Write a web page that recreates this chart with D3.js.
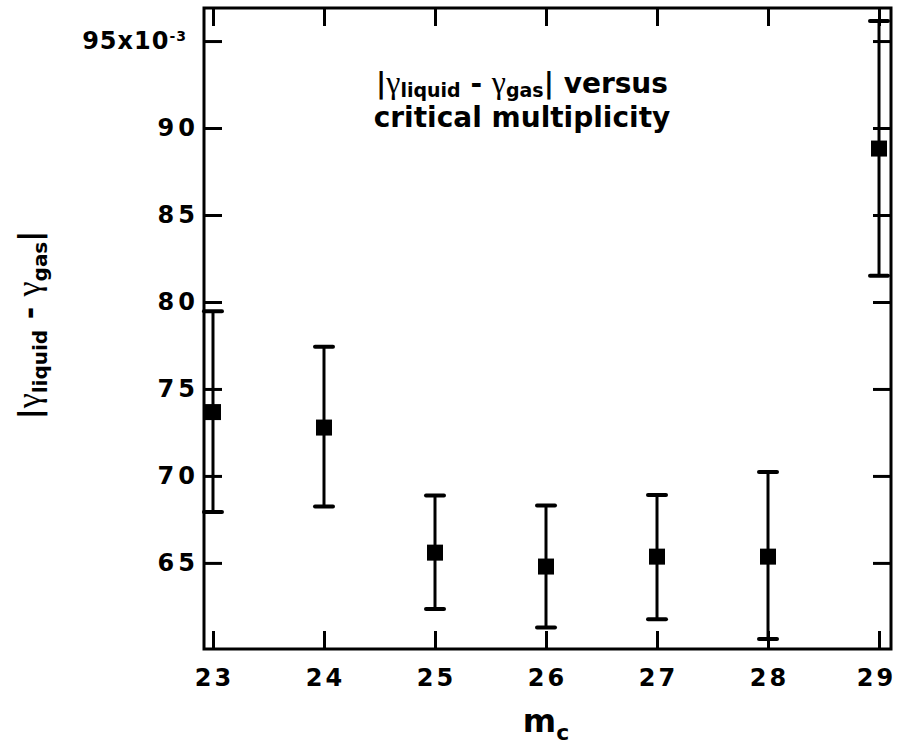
<!DOCTYPE html>
<html>
<head>
<meta charset="utf-8">
<script src="https://cdn.jsdelivr.net/npm/d3@7"></script>
<style>
  html, body { margin: 0; padding: 0; background: #fff; }
  svg { display: block; }
  text { white-space: pre; }
</style>
</head>
<body>
<svg id="chart" width="898" height="745"></svg>
<script>
// ---- data (values in units of 10^-3) ----
const categories = [23, 24, 25, 26, 27, 28, 29];
const values     = [73.67, 72.78, 65.59, 64.79, 65.36, 65.36, 88.82];
const errHigh    = [79.46, 77.43, 68.87, 68.30, 68.91, 70.22, 96.15];
const errLow     = [67.92, 68.24, 62.35, 61.28, 61.76, 60.63, 81.51];
const xTickValues = [23, 24, 25, 26, 27, 28, 29];
const yTickValues = [65, 70, 75, 80, 85, 90, 95];

(function () {
const svg = d3.select("#chart");
const pL = 204, pR = 891, pT = 8, pB = 649;
const FONT = "'DejaVu Sans', sans-serif";
const SERIF = "'Liberation Serif', 'DejaVu Serif', serif";

const x = d3.scaleLinear().domain([22.919, 29.108]).range([pL, pR]);
const y = d3.scaleLinear().domain([60.05, 96.9]).range([pB, pT]);

const TICK = 18;

// frame
svg.append("rect")
  .attr("x", pL).attr("y", pT)
  .attr("width", pR - pL).attr("height", pB - pT)
  .attr("fill", "none").attr("stroke", "#000").attr("stroke-width", 3);

function styleAxis(g, spacing) {
  g.select(".domain").remove();
  g.selectAll(".tick line").attr("stroke", "#000").attr("stroke-width", 3);
  g.selectAll(".tick text")
    .attr("fill", "#000")
    .style("font-family", FONT)
    .style("font-weight", "bold")
    .style("font-size", "24px")
    .style("letter-spacing", spacing + "px");
}

// bottom axis
const gx = svg.append("g").attr("transform", `translate(0,${pB})`)
  .call(d3.axisBottom(x).tickValues(xTickValues).tickFormat(d3.format("d"))
        .tickSize(-TICK).tickPadding(20));
styleAxis(gx, 3);
gx.selectAll(".tick text").attr("dx", d => d === 29 ? -3 : 1);

// top axis (ticks only)
const gxt = svg.append("g").attr("transform", `translate(0,${pT})`)
  .call(d3.axisTop(x).tickValues(xTickValues).tickFormat("").tickSize(-TICK));
styleAxis(gxt, 3);

// left axis
const gy = svg.append("g").attr("transform", `translate(${pL},0)`)
  .call(d3.axisLeft(y).tickValues(yTickValues).tickFormat(d3.format("d"))
        .tickSize(-TICK).tickPadding(5));
styleAxis(gy, 4);
gy.selectAll(".tick text").filter(d => d === 95).each(function () {
  const t = d3.select(this);
  t.text(null).style("letter-spacing", "1px").attr("x", -17);
  t.append("tspan").text("95x10");
  t.append("tspan").text("-3").style("font-size", "14px").attr("dy", "-0.6em");
});

// right axis (ticks only)
const gyr = svg.append("g").attr("transform", `translate(${pR},0)`)
  .call(d3.axisRight(y).tickValues(yTickValues).tickFormat("").tickSize(-TICK));
styleAxis(gyr, 4);

// error bars
const pts = categories.map((c, i) => ({ c, v: values[i], hi: errHigh[i], lo: errLow[i] }));
const eb = svg.append("g");
eb.selectAll("line.stem").data(pts).enter().append("line")
  .attr("x1", d => x(d.c)).attr("x2", d => x(d.c))
  .attr("y1", d => y(d.hi)).attr("y2", d => y(d.lo))
  .attr("stroke", "#000").attr("stroke-width", 3);
["hi", "lo"].forEach(k => {
  eb.selectAll("line.cap" + k).data(pts).enter().append("line")
    .attr("x1", d => x(d.c) - 9).attr("x2", d => x(d.c) + 9)
    .attr("y1", d => y(d[k])).attr("y2", d => y(d[k]))
    .attr("stroke", "#000").attr("stroke-width", 4).attr("stroke-linecap", "round");
});

// markers
const S = 16;
svg.append("g").selectAll("rect").data(pts).enter().append("rect")
  .attr("x", d => x(d.c) - S / 2).attr("y", d => y(d.v) - S / 2)
  .attr("width", S).attr("height", S).attr("fill", "#000");

// helper for |γ_liquid - γ_gas|
function gammaLabel(t, big, small, shift) {
  const add = (txt, opts) => {
    const s = t.append("tspan").text(txt);
    s.style("font-family", opts.serif ? SERIF : FONT)
     .style("font-weight", opts.serif ? "normal" : "bold")
     .style("font-size", opts.size + "px");
    if (opts.dy) s.attr("dy", opts.dy);
    return s;
  };
  add("|", { size: big });
  add("γ", { size: big + 4, serif: true });
  add("liquid", { size: small, dy: shift });
  add(" - ", { size: big, dy: -shift });
  add("γ", { size: big + 4, serif: true });
  add("gas", { size: small, dy: shift });
  add("|", { size: big, dy: -shift });
}

// title inside plot
const t1 = svg.append("text").attr("x", 522).attr("y", 93)
  .attr("text-anchor", "middle").attr("fill", "#000");
gammaLabel(t1, 28, 19, 4);
t1.append("tspan").text(" versus")
  .style("font-family", FONT).style("font-weight", "bold").style("font-size", "28px");

svg.append("text").attr("x", 522).attr("y", 127)
  .attr("text-anchor", "middle").attr("fill", "#000")
  .style("font-family", FONT).style("font-weight", "bold").style("font-size", "28px")
  .text("critical multiplicity");

// y axis title
const yt = svg.append("text")
  .attr("transform", "translate(40,325) rotate(-90)")
  .attr("text-anchor", "middle").attr("fill", "#000");
gammaLabel(yt, 30, 20, 7);

// x axis title
const xt = svg.append("text").attr("x", 546).attr("y", 732)
  .attr("text-anchor", "middle").attr("fill", "#000")
  .style("font-family", FONT).style("font-weight", "bold");
xt.append("tspan").text("m").style("font-size", "32px");
xt.append("tspan").text("c").style("font-size", "22px").attr("dy", 8);
})();
</script>
</body>
</html>
